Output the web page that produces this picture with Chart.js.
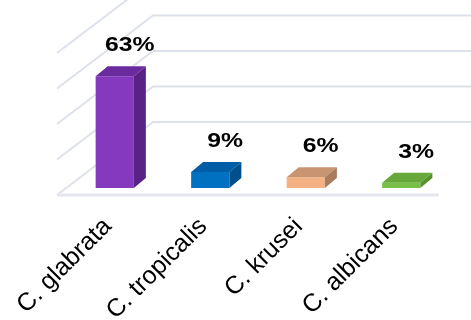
<!DOCTYPE html>
<html>
<head>
<meta charset="utf-8">
<script src="https://cdn.jsdelivr.net/npm/chart.js@4/dist/chart.umd.min.js"></script>
<style>
  html, body { margin: 0; padding: 0; background: #fff; }
  #wrap { width: 471px; height: 320px; position: relative; }
</style>
</head>
<body>
<div id="wrap"><canvas id="chart"></canvas></div>
<script>
// Species and share of isolates (%)
const species = ['C. glabrata', 'C. tropicalis', 'C. krusei', 'C. albicans'];
const shares = [63, 9, 6, 3];
const gridValues = [0, 20, 40, 60, 80];

// Front / top / side shades of each bar
const frontColors = ['#8439bf', '#0070c0', '#f4b183', '#78c046'];
const topColors = ['#6b2b9e', '#005ea6', '#c99471', '#66a83a'];
const sideColors = ['#5a2186', '#004f8c', '#a97c5e', '#58922f'];

// depth offset of the boxes
const DX = 12, DY = 10;

// Back wall + side wall grid, drawn behind the bars
const wallPlugin = {
  id: 'walls',
  beforeDatasetsDraw(chart) {
    const { ctx, chartArea, scales } = chart;
    const y = scales.y;
    ctx.save();
    ctx.strokeStyle = '#dde1e9';
    ctx.lineWidth = 2;
    gridValues.forEach(v => {
      const yv = y.getPixelForValue(v);
      const fx = chartArea.left - 10, fy = yv + 7;
      const bx = chartArea.left + 86, by = yv - 66;
      ctx.beginPath();
      ctx.moveTo(fx, fy);
      ctx.lineTo(bx, by);
      ctx.lineTo(chart.width, by);
      ctx.stroke();
    });
    // front edge of the floor
    const y0 = y.getPixelForValue(0) + 7;
    ctx.lineWidth = 3;
    ctx.strokeStyle = '#e4e7ee';
    ctx.beginPath();
    ctx.moveTo(chartArea.left - 10, y0);
    ctx.lineTo(chartArea.right - 10, y0);
    ctx.stroke();
    ctx.restore();
  }
};

// Top and side faces of the bars, then the value labels
const boxPlugin = {
  id: 'box3d',
  afterDatasetsDraw(chart) {
    const { ctx } = chart;
    const meta = chart.getDatasetMeta(0);
    ctx.save();
    meta.data.forEach((bar, i) => {
      const { x, y, base, width } = bar.getProps(['x', 'y', 'base', 'width'], true);
      const l = x - width / 2, r = x + width / 2;

      ctx.fillStyle = topColors[i];
      ctx.beginPath();
      ctx.moveTo(l, y);
      ctx.lineTo(l + DX, y - DY);
      ctx.lineTo(r + DX, y - DY);
      ctx.lineTo(r, y);
      ctx.closePath();
      ctx.fill();

      ctx.fillStyle = sideColors[i];
      ctx.beginPath();
      ctx.moveTo(r, y);
      ctx.lineTo(r + DX, y - DY);
      ctx.lineTo(r + DX, base - DY);
      ctx.lineTo(r, base);
      ctx.closePath();
      ctx.fill();

      ctx.save();
      ctx.translate(x + 15, y - 25);
      ctx.scale(1.18, 1);
      ctx.fillStyle = '#000';
      ctx.font = 'bold 21px "Liberation Sans", Arial, sans-serif';
      ctx.textAlign = 'center';
      ctx.textBaseline = 'alphabetic';
      ctx.fillText(shares[i] + '%', 0, 0);
      ctx.restore();
    });
    ctx.restore();
  }
};

new Chart(document.getElementById('chart'), {
  type: 'bar',
  data: {
    labels: species,
    datasets: [{
      data: shares,
      backgroundColor: frontColors,
      borderWidth: 0,
      barPercentage: 0.4,
      categoryPercentage: 1
    }]
  },
  options: {
    responsive: true,
    maintainAspectRatio: false,
    animation: false,
    layout: { padding: { left: 67, right: 22, top: 46, bottom: 0 } },
    plugins: { legend: { display: false }, tooltip: { enabled: false } },
    scales: {
      y: { display: false, min: 0, max: 80 },
      x: {
        grid: { display: false },
        border: { display: false },
        ticks: {
          color: '#000',
          font: { family: '"Liberation Sans", Arial, sans-serif', size: 25 },
          minRotation: 45,
          maxRotation: 45,
          padding: 16,
          labelOffset: -7
        },
        afterFit(scale) {
          // keep the plot area fixed; labels may hang past the left edge
          scale.height = 132;
          scale.paddingLeft = 0;
          scale.paddingRight = 0;
        }
      }
    }
  },
  plugins: [wallPlugin, boxPlugin]
});
</script>
</body>
</html>
